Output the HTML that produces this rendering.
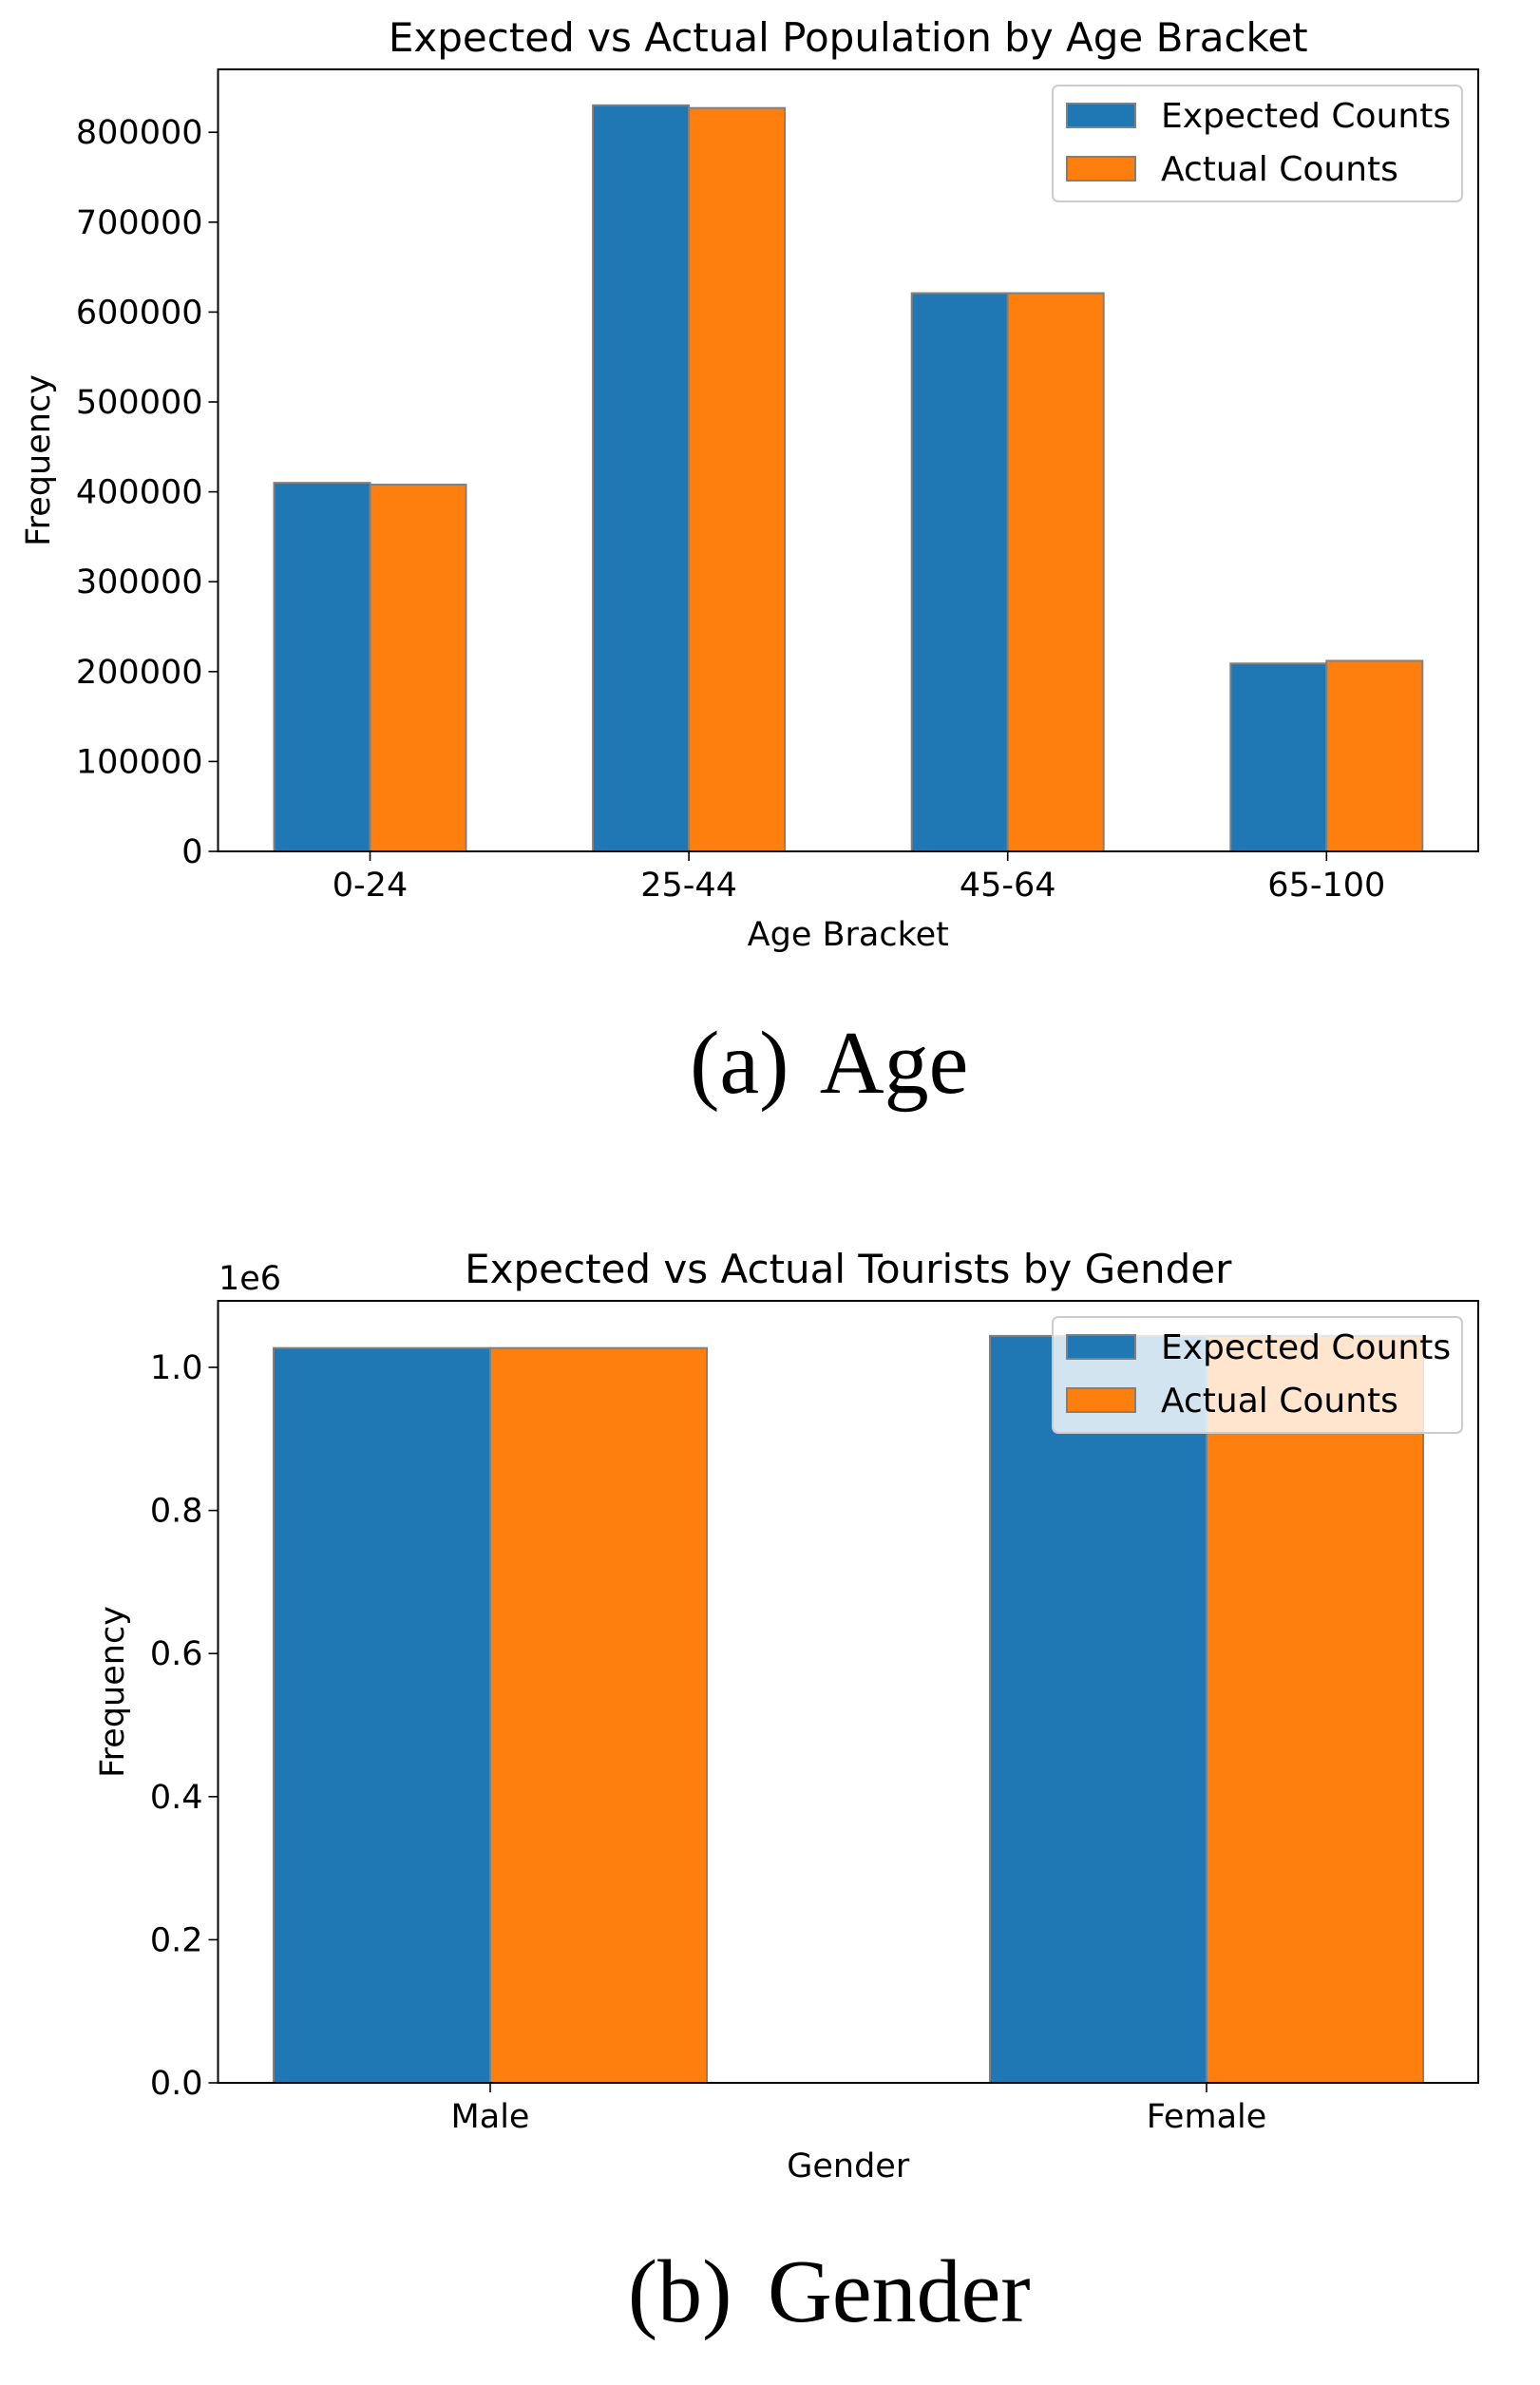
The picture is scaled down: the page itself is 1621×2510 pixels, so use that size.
<!DOCTYPE html>
<html><head><meta charset="utf-8"><style>
html,body{margin:0;padding:0;background:#fff}
svg{display:block}
text{font-family:"DejaVu Sans","Liberation Sans",sans-serif;fill:#000}
.cap{font-family:"Liberation Serif","DejaVu Serif",serif}
</style></head><body>
<svg id="svg" width="1621" height="2510" viewBox="0 0 1621 2510" xmlns="http://www.w3.org/2000/svg"></svg>
<script>
const ageCategories = ["0-24","25-44","45-64","65-100"];
const ageExpected = [410000, 830000, 621000, 209000];
const ageActual = [408000, 827000, 621000, 212000];
const ageTicks = [0,100000,200000,300000,400000,500000,600000,700000,800000];
const genderCategories = ["Male","Female"];
const genderExpected = [1027000, 1044000];
const genderActual = [1027000, 1044000];
const genderTicks = [0,0.2,0.4,0.6,0.8,1.0];

const NS = "http://www.w3.org/2000/svg";
const svg = document.getElementById("svg");
function mk(tag, attrs, parent){
  const e = document.createElementNS(NS, tag);
  for (const k in attrs) e.setAttribute(k, attrs[k]);
  (parent||svg).appendChild(e);
  return e;
}
function txt(s, attrs, parent){ const e = mk("text", attrs, parent); e.textContent = s; return e; }

function chart(o){
  const g = mk("g", {});
  
  
  const L=229.5, R=1556, T=o.top, B=o.bottom;
  const y = v => B - (v/o.ymax)*(B-T);
  const n = o.cats.length;
  const xc = i => o.x0 + i*o.dx;
  for (let i=0;i<n;i++){
    const b1 = mk("rect",{x:xc(i)-o.bw, y:y(o.exp[i]), width:o.bw, height:B-y(o.exp[i]), fill:"#1f77b4", stroke:"#808080","stroke-width":2}, g);
    
    
    const b2 = mk("rect",{x:xc(i), y:y(o.act[i]), width:o.bw, height:B-y(o.act[i]), fill:"#ff7f0e", stroke:"#808080","stroke-width":2}, g);
    
    
    mk("line",{x1:xc(i),x2:xc(i),y1:B,y2:B+10,stroke:"#000","stroke-width":1.6},g);
    const t = txt(o.cats[i],{x:xc(i),y:B+47,"text-anchor":"middle","font-size":35},g);
    
    
  }
  for (const v of o.ticks){
    const yy = y(v*o.tscale);
    mk("line",{x1:L-10,x2:L,y1:yy,y2:yy,stroke:"#000","stroke-width":1.6},g);
    const t = txt(o.fmt(v),{x:L-16,y:yy+12,"text-anchor":"end","font-size":35},g);
    
    
  }
  const fr = mk("rect",{x:L,y:T,width:R-L,height:B-T,fill:"none",stroke:"#000","stroke-width":2},g);
  
  
  const ti = txt(o.title,{x:(L+R)/2,y:T-19,"text-anchor":"middle","font-size":42},g);
  
  
  const xl = txt(o.xlabel,{x:(L+R)/2,y:B+99,"text-anchor":"middle","font-size":35},g);
  
  
  const yl = txt("Frequency",{x:0,y:0,"text-anchor":"middle","font-size":35,transform:`translate(${o.ylx},${(T+B)/2}) rotate(-90)`},g);
  
  
  const lg = mk("g",{},g);
  
  
  mk("rect",{x:1108,y:T+17,width:431,height:122,rx:6,fill:"#fff","fill-opacity":0.8,stroke:"#ccc","stroke-width":2},lg);
  mk("rect",{x:1123,y:T+36,width:72,height:25,fill:"#1f77b4",stroke:"#808080","stroke-width":2},lg);
  mk("rect",{x:1123,y:T+92,width:72,height:25,fill:"#ff7f0e",stroke:"#808080","stroke-width":2},lg);
  const e1 = txt("Expected Counts",{x:1222,y:T+61,"font-size":36},lg);
  
  
  const e2 = txt("Actual Counts",{x:1222,y:T+117,"font-size":36},lg);
  
  
  const c = txt(o.caption,{x:(L+R)/2-20,y:o.capy,"text-anchor":"middle","font-size":94,class:"cap","word-spacing":14});
  
  
}

chart({name:"age-chart", top:73, bottom:896, ymax:870000, cats:ageCategories, exp:ageExpected, act:ageActual,
  x0:389.5, dx:335.6, bw:101, ticks:ageTicks, tscale:1, fmt:v=>String(v),
  title:"Expected vs Actual Population by Age Bracket", xlabel:"Age Bracket", ylx:52, caption:"(a) Age", capy:1150});
chart({name:"gender-chart", top:1369, bottom:2192, ymax:1093000, cats:genderCategories, exp:genderExpected, act:genderActual,
  x0:516, dx:754, bw:228, ticks:genderTicks, tscale:1e6, fmt:v=>v.toFixed(1),
  title:"Expected vs Actual Tourists by Gender", xlabel:"Gender", ylx:130, caption:"(b) Gender", capy:2443});
const m = txt("1e6",{x:230,y:1357,"font-size":35});


</script>
</body></html>
